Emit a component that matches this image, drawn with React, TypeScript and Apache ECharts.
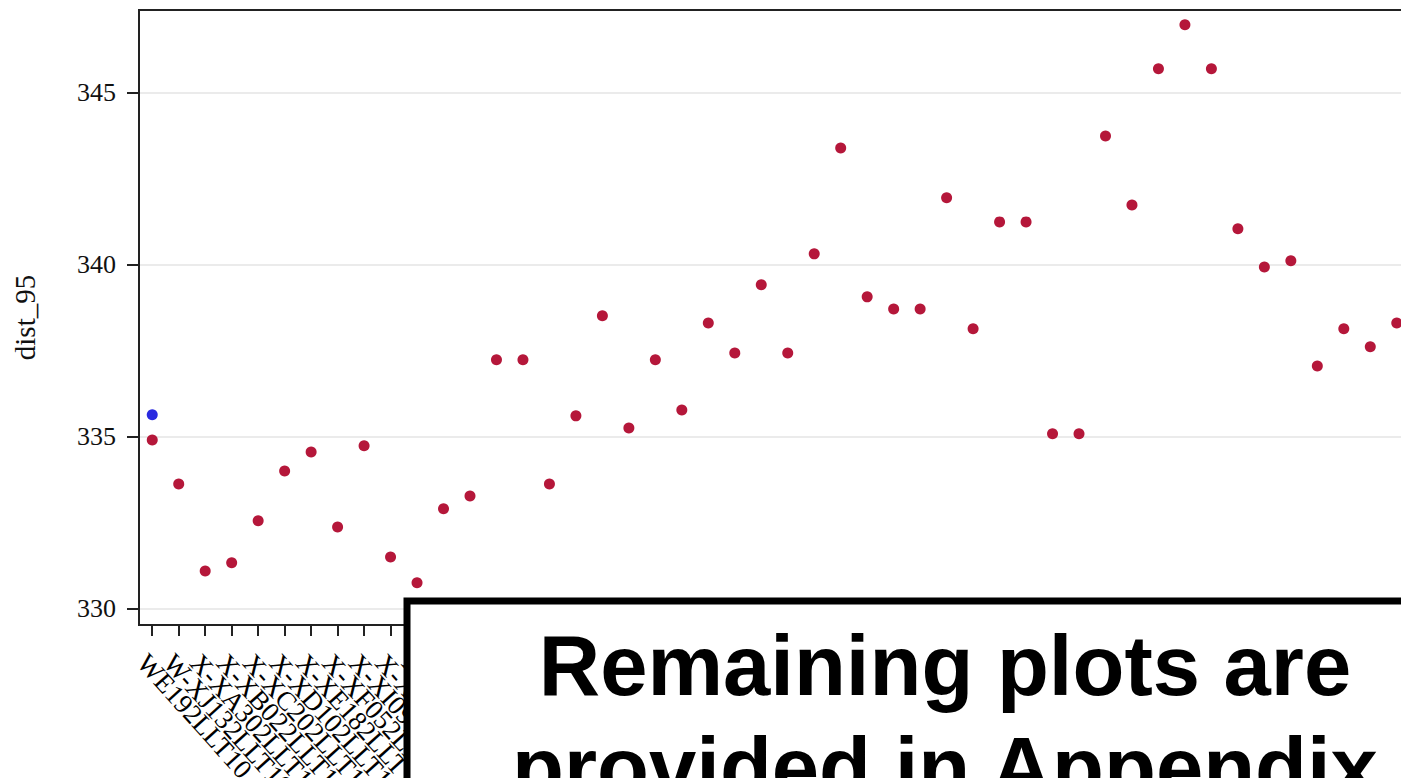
import React, { useEffect, useRef } from "react";
import * as echarts from "echarts";

const categories = [
  "WE192LLT10", "W-XJ132LLT10", "X-XA302LLT10", "X-XB022LLT10", "X-XC202LLT10",
  "X-XD102LLT10", "X-XE182LLT10", "X-XF052LLT10", "X-XI092LLT10", "X-XB092LLT10",
  "X-XC112LLT10", "X-XD122LLT10", "X-XE132LLT10", "X-XF142LLT10", "X-XG152LLT10",
  "X-XH162LLT10", "X-XI172LLT10", "X-XJ182LLT10", "X-XK192LLT10", "X-XL202LLT10",
  "X-XM212LLT10", "X-XN222LLT10", "X-XO232LLT10", "X-XP242LLT10", "X-XQ252LLT10",
  "X-XR262LLT10", "X-XS272LLT10", "X-XT282LLT10", "X-XU292LLT10", "X-XV302LLT10",
  "X-XW312LLT10", "X-XX322LLT10", "X-XY332LLT10", "X-XZ342LLT10", "Y-XA352LLT10",
  "Y-XB362LLT10", "Y-XC372LLT10", "Y-XD382LLT10", "Y-XE392LLT10", "Y-XF402LLT10",
  "Y-XG412LLT10", "Y-XH422LLT10", "Y-XI432LLT10", "Y-XJ442LLT10", "Y-XK452LLT10",
  "Y-XL462LLT10", "Y-XM472LLT10", "Y-XN482LLT10",
];

const redValues = [
  334.91, 333.63, 331.10, 331.34, 332.56, 334.01, 334.56, 332.38, 334.74, 331.51,
  330.76, 332.91, 333.28, 337.24, 337.24, 333.63, 335.61, 338.52, 335.26, 337.24,
  335.78, 338.31, 337.44, 339.42, 337.44, 340.32, 343.40, 339.07, 338.72, 338.72,
  341.95, 338.14, 341.25, 341.25, 335.09, 335.09, 343.75, 341.74, 345.70, 346.98,
  345.70, 341.05, 339.94, 340.12, 337.06, 338.14, 337.62, 338.31,
];

const blueValues = [335.64];

const yTicks = [330, 335, 340, 345];

const overlayLines = ["Remaining plots are", "provided in Appendix"];

export default function App() {
  const ref = useRef<HTMLDivElement>(null);

  useEffect(() => {
    if (!ref.current) return;
    const chart = echarts.init(ref.current, undefined, { renderer: "svg" });
    const serif = "'Liberation Serif', 'Times New Roman', serif";
    const sans = "'Liberation Sans', Arial, sans-serif";
    chart.setOption({
      animation: false,
      backgroundColor: "#ffffff",
      grid: {
        left: 139,
        top: 10,
        right: 20,
        bottom: 153,
        outerBoundsMode: "none",
        containLabel: false,
        show: true,
        borderColor: "#222222",
        borderWidth: 2,
        backgroundColor: "transparent",
      },
      xAxis: {
        type: "category",
        data: categories,
        boundaryGap: true,
        axisLine: { show: true, lineStyle: { color: "#222222", width: 2 } },
        axisTick: { show: true, alignWithLabel: true, length: 11, lineStyle: { color: "#222222", width: 2 } },
        axisLabel: {
          interval: 0,
          rotate: -48,
          margin: 24,
          verticalAlign: "top",
          fontFamily: serif,
          fontSize: 27,
          color: "#000000",
        },
        splitLine: { show: false },
      },
      yAxis: {
        type: "value",
        min: 329.53,
        max: 347.41,
        name: "dist_95",
        nameLocation: "middle",
        nameGap: 100,
        nameTextStyle: { fontFamily: serif, fontSize: 29, color: "#111111" },
        axisLine: { show: true, lineStyle: { color: "#222222", width: 2 } },
        axisTick: { show: true, length: 12, customValues: yTicks, lineStyle: { color: "#222222", width: 2 } },
        axisLabel: {
          customValues: yTicks,
          margin: 23,
          fontFamily: serif,
          fontSize: 26,
          color: "#111111",
        },
        splitLine: { show: true, lineStyle: { color: "#ebebeb", width: 2 } },
      },
      series: [
        {
          type: "scatter",
          data: redValues,
          symbolSize: 11,
          itemStyle: { color: "#b5173a", opacity: 1 },
          z: 3,
        },
        {
          type: "scatter",
          data: blueValues,
          symbolSize: 11,
          itemStyle: { color: "#2a2ae0", opacity: 1 },
          z: 4,
        },
      ],
      graphic: [
        {
          type: "group",
          z: 100,
          children: [
            {
              type: "rect",
              shape: { x: 407, y: 601, width: 1100, height: 300 },
              style: { fill: "#ffffff", stroke: "#000000", lineWidth: 7 },
              z: 100,
            },
            {
              type: "text",
              x: 945,
              y: 623,
              z: 101,
              style: {
                text: overlayLines[0],
                fontFamily: sans,
                fontWeight: "bold",
                fontSize: 85,
                fill: "#000000",
                textAlign: "center",
                textVerticalAlign: "top",
              },
            },
            {
              type: "text",
              x: 945,
              y: 725,
              z: 101,
              style: {
                text: overlayLines[1],
                fontFamily: sans,
                fontWeight: "bold",
                fontSize: 85,
                fill: "#000000",
                textAlign: "center",
                textVerticalAlign: "top",
              },
            },
          ],
        },
      ],
    });
    return () => chart.dispose();
  }, []);

  return (
    <div style={{ position: "fixed", left: 0, top: 0, width: 1401, height: 778, overflow: "hidden", background: "#fff" }}>
      <div ref={ref} style={{ width: 1430, height: 778 }} />
    </div>
  );
}
